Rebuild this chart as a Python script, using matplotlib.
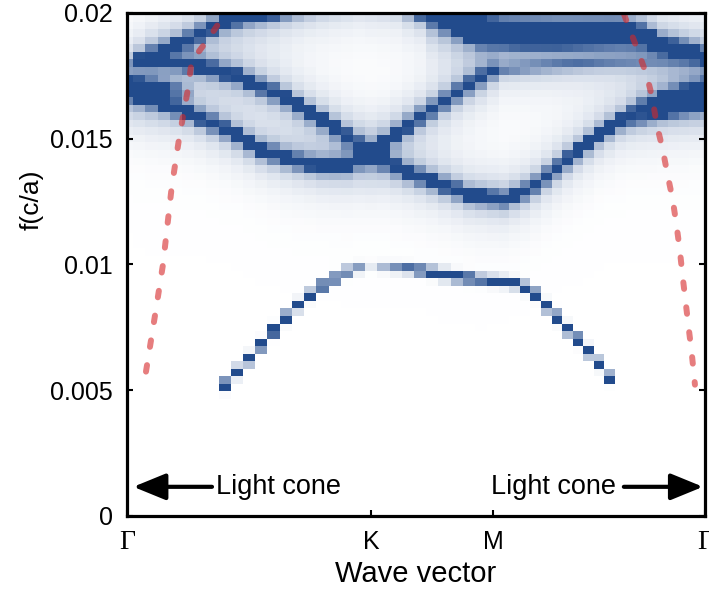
import numpy as np
import matplotlib
matplotlib.use('Agg')
import matplotlib.pyplot as plt
from matplotlib.colors import LinearSegmentedColormap

plt.rcParams['font.family'] = 'Liberation Sans'

# k-path Gamma-K-M-Gamma (hexagonal lattice, path length units)
k_ticks = [0.0, 1.0, 1.5, 2.366]
k_labels = ['Γ', 'K', 'M', 'Γ']
f_ticks = [0, 0.005, 0.01, 0.015, 0.02]
f_labels = ['0', '0.005', '0.01', '0.015', '0.02']

# band nodes: k, f (c/a), relative weight
band1_k = [0.0, 0.1146, 0.2169, 0.2783, 0.3316, 0.4012, 0.4830, 0.5649, 0.6672, 0.79, 0.95, 1.12]
band1_f = [0.01805, 0.01837, 0.01876, 0.01904, 0.01936, 0.01964, 0.01984, 0.01996, 0.02016, 0.02044, 0.0207, 0.0205]
band1_w = [0.08, 0.9, 1, 1, 1, 1, 1, 1, 1, 1, 1, 1]

band2_k = [0.0, 0.176, 0.2988, 0.4626, 0.6263, 0.79, 0.9128, 1.0, 1.1175, 1.2526,
           1.404, 1.547, 1.6496, 1.7724, 1.9361, 2.0999, 2.2227, 2.366]
band2_f = [0.01805, 0.01801, 0.01789, 0.01745, 0.01673, 0.01578, 0.01498, 0.01438, 0.01378, 0.01331,
           0.01275, 0.01259, 0.01299, 0.01394, 0.01518, 0.01618, 0.01669, 0.01705]
band2_w = [0.08, 0.4, 0.9, 1, 1, 1, 1, 1, 1, 1,
           1, 1, 1, 1, 1, 1, 1, 1]

band3_k = [0.0, 0.1351, 0.2456, 0.3397, 0.4216, 0.5444, 0.6672, 0.79, 0.8923, 1.0,
           1.0888, 1.187, 1.2812, 1.3836, 1.4859, 1.5268, 1.936, 2.366]
band3_f = [0.01685, 0.01645, 0.01606, 0.01566, 0.01526, 0.01458, 0.01418, 0.01394, 0.01394, 0.01438,
           0.0151, 0.01578, 0.01637, 0.01705, 0.01765, 0.01777, 0.01805, 0.01817]
band3_w = [1, 1, 1, 1, 1, 1, 1, 1, 1, 1,
           1, 1, 1, 1, 0.9, 0.3, 0.25, 0.2]

edge_left_k = [0.0, 0.1146, 0.2579]
edge_left_f = [0.01721, 0.01705, 0.01689]
edge_left_w = [1, 0.7, 0.1]

edge_right_k = [2.059, 2.2022, 2.366]
edge_right_f = [0.01558, 0.01606, 0.01637]
edge_right_w = [0.1, 0.6, 1]

topA_k = [1.1175, 1.2403, 1.3426, 1.4449, 1.6087, 1.7724, 2.018, 2.0999, 2.1613, 2.2227, 2.366]
topA_f = [0.02036, 0.01988, 0.01936, 0.01896, 0.01888, 0.01888, 0.01896, 0.01896, 0.01876, 0.01857, 0.01829]
topA_w = [1, 1, 1, 1, 1, 1, 1, 1, 1, 1, 0.9]

topB_k = [1.2403, 1.3631, 1.5268, 1.7724, 2.018, 2.0999, 2.1817, 2.366]
topB_f = [0.02024, 0.01976, 0.01948, 0.01944, 0.01944, 0.01924, 0.01896, 0.01876]
topB_w = [1, 1, 1, 1, 1, 0.8, 0.2, 0.0]

# guided band below the light cone
low_k = [0.395, 0.5076, 0.6099, 0.7122, 0.8187, 0.9251, 1.0, 1.1502, 1.3221, 1.445,
         1.58, 1.6578, 1.7397, 1.8256, 1.9116, 2.0]
low_f = [0.00514, 0.00633, 0.00749, 0.00849, 0.00928, 0.00984, 0.00992, 0.00984, 0.00956, 0.0094,
         0.00928, 0.00896, 0.00809, 0.00721, 0.00633, 0.0052]
low_w = [1, 1, 1, 0.7, 0.6, 0.35, 0.05, 0.4, 0.9, 0.45,
         0.55, 0.8, 0.9, 1, 1, 0.5]

# light lines
light_left_k = [0.0778, 0.1146, 0.1474, 0.1830, 0.2141, 0.2333, 0.2509, 0.2648, 0.3262, 0.3876, 0.4011]
light_left_f = [0.00574, 0.00797, 0.0100, 0.01307, 0.01506, 0.0161, 0.01705, 0.01809, 0.01888, 0.01976, 0.02004]
light_right_k = [2.0344, 2.052, 2.0888, 2.1273, 2.1502, 2.1682, 2.1928, 2.2133, 2.2337, 2.2501,
                 2.2636, 2.2747, 2.2870, 2.2992, 2.3115, 2.3250]
light_right_f = [0.01996, 0.01949, 0.01857, 0.01753, 0.01664, 0.01558, 0.01458, 0.01355, 0.01259, 0.01153,
                 0.01052, 0.00952, 0.0085, 0.00749, 0.00651, 0.00522]

# sampling grid of the spectral map
kk = np.concatenate([np.linspace(0, 1, 21), np.linspace(1, 1.5, 11)[1:], np.linspace(1.5, 2.366, 21)[1:]])
ff = np.arange(0, 0.0212, 0.0003)


def weights(ks, fs, ws):
    ks = np.asarray(ks)
    fb = np.interp(kk, ks, fs)
    wb = np.interp(kk, ks, ws)
    wb[(kk < ks[0] - 1e-6) | (kk > ks[-1] + 1e-6)] = 0
    d = ff[:, None] - fb[None, :]
    return wb[None, :], d


def upper_band(ks, fs, ws, g=0.00017):
    w, d = weights(ks, fs, ws)
    return w * (1 / (1 + (d / g) ** 2) + 0.035 * np.exp(-(d / 0.0016) ** 2))


def guided_band(ks, fs, ws, s=0.00018):
    w, d = weights(ks, fs, ws)
    return w * np.exp(-(d / s) ** 2)


Z = (upper_band(band1_k, band1_f, band1_w)
     + upper_band(band2_k, band2_f, band2_w)
     + upper_band(band3_k, band3_f, band3_w)
     + upper_band(edge_left_k, edge_left_f, edge_left_w)
     + upper_band(edge_right_k, edge_right_f, edge_right_w)
     + upper_band(topA_k, topA_f, topA_w)
     + upper_band(topB_k, topB_f, topB_w)
     + guided_band(low_k, low_f, low_w))

cmap = LinearSegmentedColormap.from_list('bands', ['#ffffff', '#224b8c'])

fig = plt.figure(figsize=(7.09, 5.92), dpi=100)
ax = fig.add_axes([0.1791, 0.1284, 0.8152, 0.8497])

ax.pcolormesh(kk, ff, Z, shading='nearest', cmap=cmap, vmin=0, vmax=0.45)

ax.plot(light_left_k, light_left_f, color='tab:red', alpha=0.6, lw=4.3,
        dashes=(1.1, 3.1), dash_capstyle='round')
ax.plot(light_right_k, light_right_f, color='tab:red', alpha=0.6, lw=4.3,
        dashes=(1.1, 3.1), dash_capstyle='round')

# light cone arrows
arr = dict(arrowstyle='-|>,head_length=1.1,head_width=0.45', lw=3, color='k',
           shrinkA=0, shrinkB=0, mutation_scale=18)
ax.annotate('', xy=(0.026, 0.00116), xytext=(0.348, 0.00116), arrowprops=arr)
ax.annotate('', xy=(2.358, 0.00116), xytext=(2.034, 0.00116), arrowprops=arr)
ax.text(0.364, 0.00116, 'Light cone', fontsize=19.5, ha='left', va='center')
ax.text(2.0, 0.00116, 'Light cone', fontsize=19.5, ha='right', va='center')

ax.set_xlim(0, 2.366)
ax.set_ylim(0, 0.02)
ax.set_xticks(k_ticks)
ax.set_xticklabels(k_labels, fontsize=18)
for lbl in ax.get_xticklabels():
    if lbl.get_text() == 'Γ':
        lbl.set_fontfamily('Liberation Serif')
        lbl.set_fontsize(20)
ax.set_yticks(f_ticks)
ax.set_yticklabels(f_labels, fontsize=18)
ax.tick_params(direction='in', length=4.5, width=1.5, pad=10, right=True)

for s in ax.spines.values():
    s.set_linewidth(2.3)

ax.set_xlabel('Wave vector', fontsize=21)
ax.set_ylabel('f(c/a)', fontsize=19)
ax.yaxis.set_label_coords(-0.145, 0.628)

fig.savefig('out.png', dpi=100)
